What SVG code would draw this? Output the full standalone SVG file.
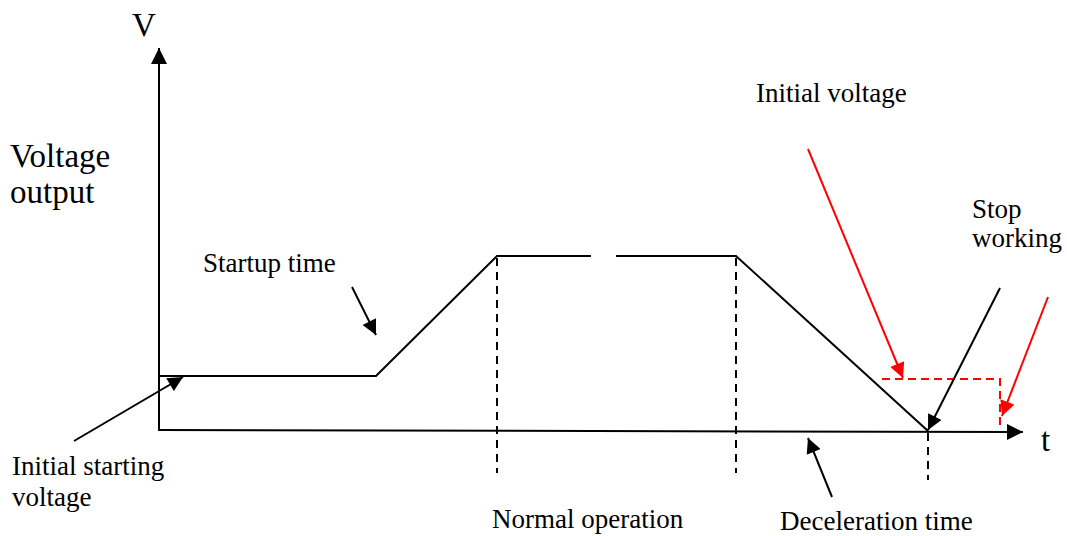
<svg xmlns="http://www.w3.org/2000/svg" width="1067" height="536" viewBox="0 0 1067 536">
  <style>
    .lbl { font-family: "Liberation Serif", "Times New Roman", serif; font-size: 27px; fill: #000; }
    .big { font-family: "Liberation Serif", "Times New Roman", serif; font-size: 33px; fill: #000; }
    .ln { stroke: #000; stroke-width: 2; fill: none; }
    .dash { stroke: #000; stroke-width: 2; fill: none; stroke-dasharray: 8 6; }
    .rdash { stroke: #f00; stroke-width: 2; fill: none; stroke-dasharray: 8 5; }
    .rln { stroke: #f00; stroke-width: 2; fill: none; }
  </style>
  <defs>
    <marker id="arrowK" viewBox="0 0 10 10" refX="10" refY="5" markerWidth="16" markerHeight="15" markerUnits="userSpaceOnUse" orient="auto">
      <path d="M0,0 L10,5 L0,10 Z" fill="#000"/>
    </marker>
    <marker id="arrowR" viewBox="0 0 10 10" refX="10" refY="5" markerWidth="16" markerHeight="15" markerUnits="userSpaceOnUse" orient="auto">
      <path d="M0,0 L10,5 L0,10 Z" fill="#f00"/>
    </marker>
    <marker id="axisHead" viewBox="0 0 10 10" refX="10" refY="5" markerWidth="16" markerHeight="16" markerUnits="userSpaceOnUse" orient="auto">
      <path d="M0,0 L10,5 L0,10 Z" fill="#000"/>
    </marker>
  </defs>

  <!-- axes -->
  <g id="axes">
    <line class="ln" x1="159" y1="431" x2="159" y2="48" marker-end="url(#axisHead)"/>
    <line class="ln" x1="159" y1="430" x2="1023" y2="432" marker-end="url(#axisHead)"/>
    <text class="big" x="132" y="36">V</text>
    <text class="big" x="1041" y="451">t</text>
  </g>

  <!-- voltage profile -->
  <g id="profile">
    <polyline class="ln" points="159,376 376,376 497,256 591,256"/>
    <polyline class="ln" points="616,256 736,256 928,431"/>
  </g>

  <!-- phase boundaries -->
  <g id="boundaries">
    <line class="dash" x1="497" y1="258" x2="497" y2="473"/>
    <line class="dash" x1="736" y1="258" x2="736" y2="473"/>
    <line class="dash" x1="928" y1="433" x2="928" y2="480"/>
  </g>

  <!-- initial voltage level (red dashed) -->
  <g id="initial-level">
    <polyline class="rdash" points="882,379 1000,379 1000,430"/>
  </g>

  <!-- labels -->
  <g id="label-voltage-output">
    <text class="big" x="10" y="167">Voltage</text>
    <text class="big" x="10" y="203">output</text>
  </g>
  <g id="label-startup">
    <text class="lbl" x="203" y="272">Startup time</text>
  </g>
  <g id="label-initial-starting">
    <text class="lbl" x="12" y="475">Initial starting</text>
    <text class="lbl" x="12" y="506">voltage</text>
  </g>
  <g id="label-initial-voltage">
    <text class="lbl" x="756" y="102">Initial voltage</text>
  </g>
  <g id="label-stop">
    <text class="lbl" x="972" y="218">Stop</text>
    <text class="lbl" x="972" y="247">working</text>
  </g>
  <g id="label-normal">
    <text class="lbl" x="492" y="528">Normal operation</text>
  </g>
  <g id="label-decel">
    <text class="lbl" x="780" y="530">Deceleration time</text>
  </g>

  <!-- pointer arrows -->
  <g id="connectors">
    <line class="ln" x1="352" y1="287" x2="376" y2="335" marker-end="url(#arrowK)"/>
    <line class="ln" x1="74" y1="441" x2="183" y2="377" marker-end="url(#arrowK)"/>
    <line class="ln" x1="832" y1="497" x2="808" y2="438" marker-end="url(#arrowK)"/>
    <line class="ln" x1="1000" y1="288" x2="928" y2="430" marker-end="url(#arrowK)"/>
    <line class="rln" x1="808" y1="149" x2="903" y2="378" marker-end="url(#arrowR)"/>
    <line class="rln" x1="1048" y1="297" x2="1002" y2="416" marker-end="url(#arrowR)"/>
  </g>
</svg>
